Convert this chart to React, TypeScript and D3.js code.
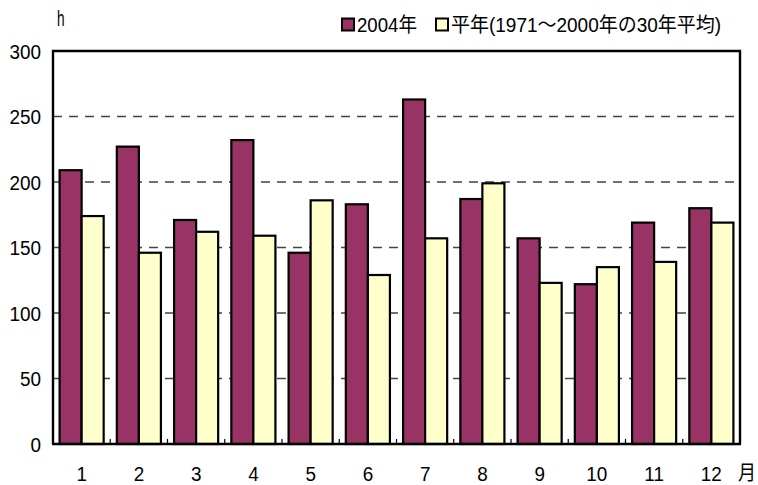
import React from "react";
import * as d3 from "d3";

const months = ["1", "2", "3", "4", "5", "6", "7", "8", "9", "10", "11", "12"];
const values2004 = [209, 227, 171, 232, 146, 183, 263, 187, 157, 122, 169, 180];
const valuesNormal = [174, 146, 162, 159, 186, 129, 157, 199, 123, 135, 139, 169];
const yTicks = [0, 50, 100, 150, 200, 250, 300];
const seriesNames = ["2004年", "平年(1971～2000年の30年平均)"];
const seriesColors = ["#993366", "#FFFFCC"];

const W = 758, H = 485;
const M = { left: 53, right: 18, top: 51, bottom: 41 };
const FONT = "'Liberation Sans', Arial, 'Noto Sans CJK JP', sans-serif";

function NText(props: { x: number; y: number; anchor?: string; size: number; sx?: number; children: any; dy?: string }) {
  const sx = props.sx ?? 0.9;
  return (
    <g transform={`translate(${props.x},${props.y}) scale(${sx},1)`}>
      <text x={0} y={0} dy={props.dy} textAnchor={props.anchor ?? "start"} fontFamily={FONT} fontSize={props.size}>{props.children}</text>
    </g>
  );
}

export default function App() {
  const x0 = d3.scaleBand<string>().domain(months).range([M.left, W - M.right]).paddingInner(0.23).paddingOuter(0.115);
  const x1 = d3.scaleBand<number>().domain([0, 1]).range([0, x0.bandwidth()]);
  const y = d3.scaleLinear().domain([0, 300]).range([H - M.bottom, M.top]);
  const step = x0.step();
  const plotL = M.left, plotR = W - M.right;
  const series = [values2004, valuesNormal];
  return (
    <svg width={W} height={H} style={{ position: "absolute", left: 0, top: 0 }}>
      <rect width={W} height={H} fill="#fff" />
      {yTicks.filter(t => t > 0 && t < 300).map(t => (
        <line key={t} x1={plotL} x2={plotR} y1={y(t)} y2={y(t)} stroke="#444" strokeWidth={1.3} strokeDasharray="9,7" />
      ))}
      {series.map((vals, si) =>
        vals.map((v, i) => (
          <rect key={si + "-" + i}
            x={(x0(months[i]) as number) + (x1(si) as number)}
            y={y(v)}
            width={x1.bandwidth()}
            height={y(0) - y(v)}
            fill={seriesColors[si]} stroke="#000" strokeWidth={2.2} />
        ))
      )}
      {months.slice(1).map((m, i) => {
        const xx = plotL + step * (i + 1);
        return <line key={m} x1={xx} x2={xx} y1={y(0)} y2={y(0) - 5} stroke="#000" strokeWidth={1.2} />;
      })}
      <path d={`M${plotL},${y(0)} V${y(300)} H${plotR} V${y(0)}`} fill="none" stroke="#000" strokeWidth={2.4} />
      <line x1={plotL - 1} x2={plotR + 1} y1={y(0)} y2={y(0)} stroke="#000" strokeWidth={2.4} />
      {yTicks.map(t => (
        <NText key={t} x={41} y={y(t)} dy="0.36em" anchor="end" size={21}>{t}</NText>
      ))}
      {months.map(m => (
        <NText key={m} x={(x0(m) as number) + x0.bandwidth() / 2} y={481} anchor="middle" size={21}>{m}</NText>
      ))}
      <NText x={738} y={480} size={20} sx={0.9}>月</NText>
      <NText x={57} y={26} size={22} sx={0.62}>h</NText>
      <rect x={342} y={18.5} width={12} height={12} fill={seriesColors[0]} stroke="#000" strokeWidth={2} />
      <text x={357} y={32} fontFamily={FONT} fontSize={20} textLength={60} lengthAdjust="spacingAndGlyphs">{seriesNames[0]}</text>
      <rect x={436} y={18.5} width={12} height={12} fill={seriesColors[1]} stroke="#000" strokeWidth={2} />
      <text x={451} y={32} fontFamily={FONT} fontSize={20} textLength={270} lengthAdjust="spacingAndGlyphs">{seriesNames[1]}</text>
    </svg>
  );
}
